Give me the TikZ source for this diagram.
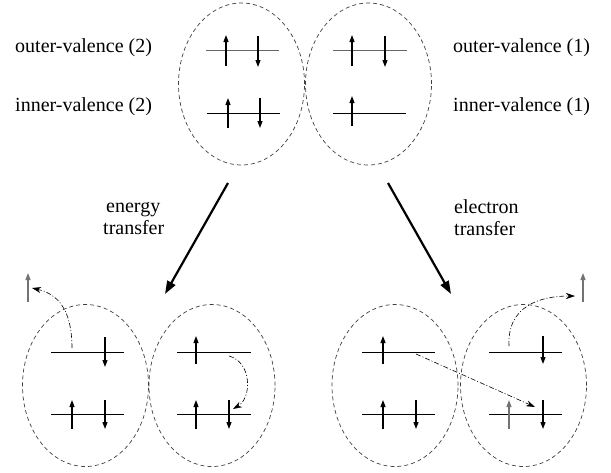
\documentclass[tikz,border=0pt]{standalone}
\usepackage{fontspec}
\setmainfont{Liberation Serif}
\newfontfamily\labfont{Liberation Serif}
\usetikzlibrary{shapes.geometric,arrows.meta}
\begin{document}
\begin{tikzpicture}[x=1pt,y=-1pt,
  orb/.style={draw=black!75, dash pattern=on 4pt off 3pt, line width=0.7pt, ellipse, minimum width=126pt, minimum height=162pt, inner sep=0pt},
  lvl/.style={line width=0.8pt},
  lvlg/.style={line width=0.8pt, draw=black!60},
  el/.style={line width=1.1pt, -{Triangle[length=7pt,width=5pt]}},
  elg/.style={line width=1.1pt, draw=black!55, -{Triangle[length=7pt,width=5pt]}, fill=black!55},
  big/.style={line width=2.2pt, -{Triangle[length=13pt,width=9pt]}},
  hop/.style={line width=0.6pt, dash pattern=on 5pt off 2pt on 1pt off 2pt, -{Stealth[length=9pt,width=6pt]}},
  lab/.style={anchor=base west, inner sep=0pt, font=\labfont\fontsize{20}{22}\selectfont}]
\useasboundingbox (0,0) rectangle (611,472);
% top orbitals
\node[orb] (TL) at (241.5,84) {};
\node[orb] (TR) at (368.5,84) {};
\draw[lvlg] (206,50.7) -- (279,50.7);
\draw[el] (226,66) -- (226,35);
\draw[el] (258,36) -- (258,67);
\draw[lvl] (207,113) -- (280,113);
\draw[el] (228,128) -- (228,98);
\draw[el] (260,98) -- (260,128);
\draw[lvlg] (333,50.7) -- (407,50.7);
\draw[el] (352,66) -- (352,35);
\draw[el] (385,36) -- (385,67);
\draw[lvl] (333,113) -- (406,113);
\draw[el] (352,126) -- (352,96);
% labels
\node[lab] (o2) at (15,52) {outer-valence (2)};
\node[lab] (i2) at (15,111) {inner-valence (2)};
\node[lab] (o1) at (453,52) {outer-valence (1)};
\node[lab] (i1) at (453,111) {inner-valence (1)};
\node[lab] (en) at (106,212) {energy};
\node[lab] (tr1) at (103,234) {transfer};
\node[lab] (ec) at (454,213) {electron};
\node[lab] (tr2) at (454,235) {transfer};
% big arrows
\coordinate (a1s) at (228,183);
\coordinate (a1e) at (165,294);
\coordinate (a2s) at (388,183);
\coordinate (a2e) at (451,294);
\draw[big] (a1s) -- (a1e);
\draw[big] (a2s) -- (a2e);
% bottom left pair (energy transfer)
\node[orb] (BL1) at (85.5,385.5) {};
\node[orb] (BL2) at (212,385.5) {};
\draw[lvl] (51,352) -- (124,352);
\draw[el] (105,337) -- (105,367);
\draw[lvl] (51,414) -- (124,414);
\draw[el] (72,429) -- (72,400);
\draw[el] (105,400) -- (105,429);
\draw[elg] (28,302) -- (28,273);
\coordinate (h1s) at (72,348);
\coordinate (h1e) at (32,288);
\draw[hop] (h1s) .. controls (72,310) and (58,294) .. (h1e);
\draw[lvl] (177,352) -- (251,352);
\draw[el] (196,364) -- (196,336);
\draw[lvl] (177,414) -- (251,414);
\draw[el] (196,429) -- (196,400);
\draw[el] (229,400) -- (229,429);
\coordinate (h2s) at (229,356);
\coordinate (h2e) at (233,409);
\draw[hop] (h2s) .. controls (252,362) and (252,398) .. (h2e);
% bottom right pair (electron transfer)
\node[orb] (BR1) at (395,385.5) {};
\node[orb] (BR2) at (523.5,385.5) {};
\draw[lvl] (362,352) -- (435,352);
\draw[el] (383,364) -- (383,336);
\draw[lvl] (362,414) -- (435,414);
\draw[el] (383,429) -- (383,400);
\draw[el] (416,400) -- (416,429);
\draw[lvl] (489,352) -- (562,352);
\draw[el] (543,336) -- (543,364);
\draw[lvl] (489,414) -- (562,414);
\draw[elg] (509,429) -- (509,400);
\draw[el] (543,400) -- (543,429);
\draw[elg] (583,302) -- (583,273);
\coordinate (h3s) at (509,346);
\coordinate (h3e) at (575,296);
\draw[hop] (h3s) .. controls (507,306) and (540,296) .. (h3e);
\coordinate (h4s) at (416,354);
\coordinate (h4e) at (535,407);
\draw[hop] (h4s) -- (h4e);
\end{tikzpicture}
\end{document}
